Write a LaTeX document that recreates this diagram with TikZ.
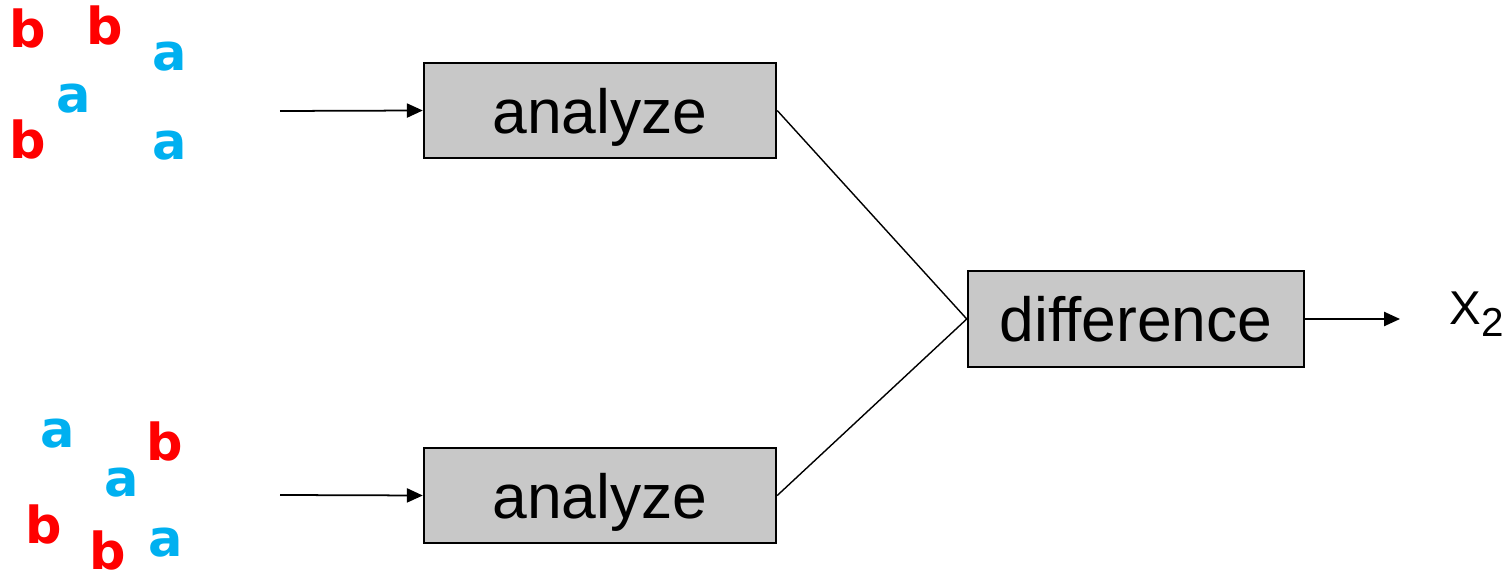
\documentclass[tikz,border=0pt]{standalone}
\usepackage{fontspec}
\setmainfont{Liberation Sans}
\newfontfamily\letterfont{DejaVu Sans}
\usetikzlibrary{arrows.meta}
\definecolor{lettera}{HTML}{00B0F0}
\definecolor{letterb}{HTML}{FF0000}
\definecolor{boxgray}{HTML}{C8C8C8}
\tikzset{
  procbox/.style={draw=black, line width=1.4pt, fill=boxgray, inner sep=0pt,
    text height=26pt, text depth=0pt, font=\fontsize{35.5}{40}\selectfont},
  symA/.style={anchor=base, inner sep=0pt, text=lettera,
    font=\letterfont\bfseries\fontsize{29}{32}\selectfont},
  symB/.style={anchor=base, inner sep=0pt, text=letterb,
    font=\letterfont\bfseries\fontsize{29}{32}\selectfont},
  feed/.style={line width=1pt, -{Triangle[length=9pt, width=8pt]}},
  mergeline/.style={line width=0.8pt}
}
\begin{document}
\begin{tikzpicture}

  \useasboundingbox (0, 0) rectangle (30.24, -11.56);

  % First sample
  \node (b1) at (0.56, -0.96) [symB] {b};
  \node (b2) at (2.10, -0.90) [symB] {b};
  \node (a1) at (3.40, -1.42) [symA] {a};
  \node (a2) at (1.48, -2.26) [symA] {a};
  \node (b3) at (0.56, -3.18) [symB] {b};
  \node (a3) at (3.40, -3.20) [symA] {a};

  % Second sample
  \node (a4) at (1.16, -8.96) [symA] {a};
  \node (b4) at (3.30, -9.22) [symB] {b};
  \node (a5) at (2.44, -9.94) [symA] {a};
  \node (b5) at (0.88, -10.88) [symB] {b};
  \node (b6) at (2.16, -11.40) [symB] {b};
  \node (a6) at (3.32, -11.14) [symA] {a};

  % Processing boxes
  \node (top) at (12, -2.21) [procbox, minimum width=7.04cm, minimum height=1.9cm] {analyze};
  \node (bot) at (12, -9.91) [procbox, minimum width=7.04cm, minimum height=1.9cm] {analyze};
  \node (diff) at (22.72, -6.38) [procbox, minimum width=6.72cm, minimum height=1.92cm] {difference};

  % Inputs
  \coordinate (inTop) at (5.6, -2.22);
  \coordinate (inBot) at (5.6, -9.90);
  \draw[feed] (inTop) -- (top.west);
  \draw[feed] (inBot) -- (bot.west);

  % Merge
  \draw[mergeline] (top.east) -- (diff.west);
  \draw[mergeline] (bot.east) -- (diff.west);

  % Output
  \coordinate (outEnd) at (28.0, -6.38);
  \draw[feed] (diff.east) -- (outEnd);
  \node (res) at (28.98, -6.50) [anchor=base west, inner sep=0pt, font=\fontsize{27}{30}\selectfont]
    {X\raisebox{-6.3pt}{\fontsize{23}{26}\selectfont 2}};

\end{tikzpicture}
\end{document}
